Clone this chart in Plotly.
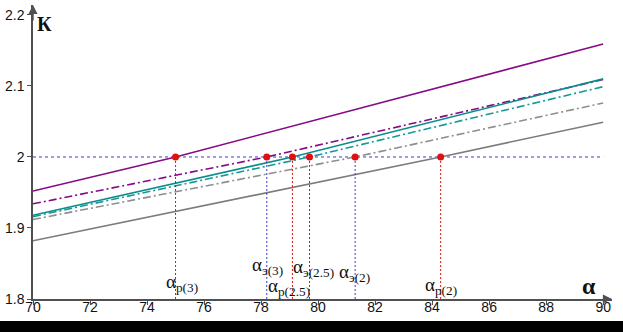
import plotly.graph_objects as go

# Coefficient K versus angle alpha for three ratios (3, 2.5, 2):
# "р" = calculated curves (solid), "э" = experimental curves (dash-dot).
# Each curve: K at alpha = 70, at its crossing with K = 2, and at alpha = 90.
alpha_p3 = [70, 75.0, 90]
k_p3 = [1.952, 2.0, 2.159]

alpha_e3 = [70, 78.2, 90]
k_e3 = [1.934, 2.0, 2.109]

alpha_p25 = [70, 79.1, 90]
k_p25 = [1.918, 2.0, 2.110]

alpha_e25 = [70, 79.7, 90]
k_e25 = [1.916, 2.0, 2.099]

alpha_e2 = [70, 81.3, 90]
k_e2 = [1.912, 2.0, 2.076]

alpha_p2 = [70, 84.3, 90]
k_p2 = [1.882, 2.0, 2.049]

k_level = 2.0
x_ticks = [70, 72, 74, 76, 78, 80, 82, 84, 86, 88, 90]
y_ticks = [1.8, 1.9, 2.0, 2.1, 2.2]

PURPLE = "#860a86"
TEAL = "#0a8c8c"
TEAL_DD = "#139a96"
GREY = "#7c7c7c"
GREY_DD = "#8e8e8e"
RED = "#e01010"
BLUE = "#3a3ad0"
AXIS = "#505050"

curves = [
    (alpha_p3, k_p3, PURPLE, "solid", "р", "3"),
    (alpha_e3, k_e3, PURPLE, "8px,3px,2px,3px", "э", "3"),
    (alpha_p25, k_p25, TEAL, "solid", "р", "2.5"),
    (alpha_e25, k_e25, TEAL_DD, "8px,3px,2px,3px", "э", "2.5"),
    (alpha_e2, k_e2, GREY_DD, "8px,3px,2px,3px", "э", "2"),
    (alpha_p2, k_p2, GREY, "solid", "р", "2"),
]

fig = go.Figure()

# horizontal reference level K = 2
fig.add_trace(go.Scatter(
    x=[x_ticks[0], x_ticks[-1]], y=[k_level, k_level], mode="lines",
    line=dict(color=BLUE, width=1, dash="3px,3px"), hoverinfo="skip"))

for ax_, k_, color, dash, kind, ratio in curves:
    fig.add_trace(go.Scatter(x=ax_, y=k_, mode="lines",
                             line=dict(color=color, width=1.6, dash=dash),
                             name=f"{kind}({ratio})"))

# vertical drop lines from each crossing down to the alpha axis
for ax_, k_, color, dash, kind, ratio in curves:
    a0 = ax_[1]
    fig.add_trace(go.Scatter(
        x=[a0, a0], y=[k_[1], y_ticks[0]], mode="lines",
        line=dict(color=RED if kind == "р" else BLUE, width=1, dash="2px,2px"),
        hoverinfo="skip"))

# crossing points
fig.add_trace(go.Scatter(
    x=[c[0][1] for c in curves], y=[c[1][1] for c in curves], mode="markers",
    marker=dict(color=RED, size=7), hoverinfo="skip"))

# labels of crossing angles
label_pos = {
    ("р", "3"): (75.22, 1.822),
    ("э", "3"): (78.24, 1.846),
    ("р", "2.5"): (78.97, 1.817),
    ("э", "2.5"): (79.84, 1.843),
    ("э", "2"): (81.27, 1.836),
    ("р", "2"): (84.30, 1.819),
}
annotations = []
for (kind, ratio), (lx, ly) in label_pos.items():
    annotations.append(dict(
        x=lx, y=ly, xref="x", yref="y", showarrow=False, borderpad=0,
        text=f"α<sub>{kind}({ratio})</sub>",
        font=dict(family="Liberation Serif", size=19, color="#111")))

annotations.append(dict(x=89.51, y=1.818, xref="x", yref="y", showarrow=False,
                        text="<b>α</b>",
                        font=dict(family="Liberation Serif", size=24, color="#111")))
annotations.append(dict(x=70.42, y=2.187, xref="x", yref="y", showarrow=False,
                        text="<b>К</b>",
                        font=dict(family="Liberation Serif", size=20, color="#111")))

# axis arrowheads
annotations.append(dict(x=90.31, y=1.8, ax=89.95, ay=1.8, xref="x", yref="y",
                        axref="x", ayref="y", text="", showarrow=True,
                        arrowhead=2, arrowsize=1.3, arrowwidth=1.4, arrowcolor=AXIS))
annotations.append(dict(x=70, y=2.214, ax=70, ay=2.19, xref="x", yref="y",
                        axref="x", ayref="y", text="", showarrow=True,
                        arrowhead=2, arrowsize=1.3, arrowwidth=1.4, arrowcolor=AXIS))

fig.update_layout(
    width=623, height=332,
    margin=dict(l=28, r=11, t=5, b=33),
    paper_bgcolor="white", plot_bgcolor="white",
    showlegend=False,
    annotations=annotations,
    shapes=[dict(type="rect", xref="paper", yref="paper",
                 x0=-0.1, x1=1.1, y0=-0.3, y1=-0.0748,
                 fillcolor="black", line=dict(width=0), layer="above")],
    xaxis=dict(range=[70, 90.31], tickvals=x_ticks, showgrid=False, zeroline=False,
               showline=True, linecolor=AXIS, linewidth=1.5,
               ticks="outside", ticklen=4, tickcolor=AXIS, tickwidth=1,
               ticklabelstandoff=-10,
               tickfont=dict(family="Liberation Sans", size=14, color="#111")),
    yaxis=dict(range=[1.8, 2.214], tickvals=y_ticks,
               ticktext=["1.8", "1.9", "2", "2.1", "2.2"],
               showgrid=False, zeroline=False,
               showline=True, linecolor=AXIS, linewidth=1.5,
               ticks="outside", ticklen=4, tickcolor=AXIS, tickwidth=1,
               tickfont=dict(family="Liberation Sans", size=14, color="#111")),
)

fig.write_html("out.html")
